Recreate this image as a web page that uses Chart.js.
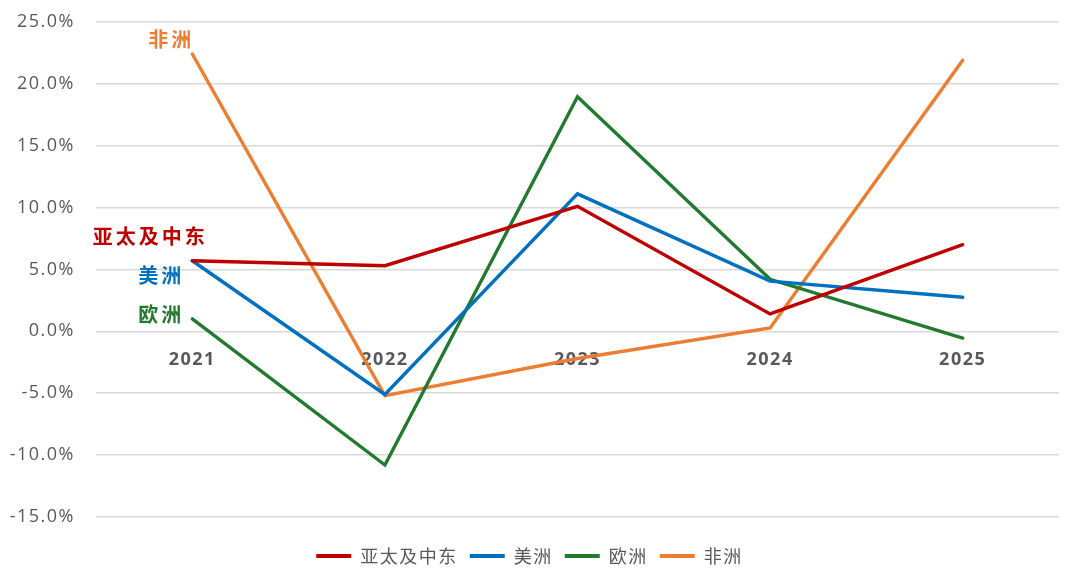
<!DOCTYPE html>
<html>
<head>
<meta charset="utf-8">
<script src="https://cdn.jsdelivr.net/npm/chart.js@4.4.0/dist/chart.umd.min.js"></script>
<style>
  html, body { margin: 0; padding: 0; background: #fff; }
  #wrap { width: 1080px; height: 588px; position: relative; }
</style>
</head>
<body>
<div id="wrap"><canvas id="c"></canvas></div>
<script>
var YEARS = ['2021', '2022', '2023', '2024', '2025'];
var SERIES_NAMES = ['亚太及中东', '美洲', '欧洲', '非洲'];
var APAC_ME = [5.7, 5.3, 10.1, 1.4, 7.0];
var AMERICAS = [5.7, -5.1, 11.1, 4.05, 2.75];
var EUROPE = [1.0, -10.8, 18.95, 4.2, -0.55];
var AFRICA = [22.4, -5.2, -2.2, 0.27, 21.9];
var Y_TICKS = [-15, -10, -5, 0, 5, 10, 15, 20, 25];

var COLORS = ['#c00000', '#0070c0', '#217a2d', '#ed7d31'];
var TEXT = '#595959';
var GRID = '#d9d9d9';
var FONT = "'Open Sans', 'Noto Sans CJK SC', sans-serif";
var FONT_CJK = "'Noto Sans CJK SC', sans-serif";

// where each series name sits relative to its first point
var LABEL_OFFSETS = [
  { dx: -42, dy: -24 },
  { dx: -31, dy: 15 },
  { dx: -31, dy: -5 },
  { dx: -21, dy: -15 },
];

// the source picture has loosely spaced text, canvas can do that directly
var spacing = {
  id: 'spacing',
  beforeLayout: function (chart) { chart.ctx.letterSpacing = '1.5px'; },
  beforeDraw: function (chart) { chart.ctx.letterSpacing = '1.5px'; },
};

var seriesLabels = {
  id: 'seriesLabels',
  afterDatasetsDraw: function (chart) {
    var ctx = chart.ctx;
    ctx.save();
    ctx.font = 'bold 20px ' + FONT_CJK;
    ctx.letterSpacing = '3px';
    ctx.textAlign = 'center';
    ctx.textBaseline = 'middle';
    chart.data.datasets.forEach(function (ds, i) {
      var pt = chart.getDatasetMeta(i).data[0];
      var off = LABEL_OFFSETS[i];
      ctx.fillStyle = ds.borderColor;
      ctx.fillText(ds.label, pt.x + off.dx, pt.y + off.dy);
    });
    ctx.restore();
  },
};

function makeDataset(name, values, color) {
  return {
    label: name,
    data: values,
    borderColor: color,
    backgroundColor: color,
    borderWidth: 3.4,
    borderCapStyle: 'round',
    borderJoinStyle: 'miter',
    pointRadius: 0,
    pointHoverRadius: 0,
    tension: 0,
    fill: false,
  };
}

new Chart(document.getElementById('c').getContext('2d'), {
  type: 'line',
  data: {
    labels: YEARS,
    datasets: [
      makeDataset(SERIES_NAMES[0], APAC_ME, COLORS[0]),
      makeDataset(SERIES_NAMES[1], AMERICAS, COLORS[1]),
      makeDataset(SERIES_NAMES[2], EUROPE, COLORS[2]),
      makeDataset(SERIES_NAMES[3], AFRICA, COLORS[3]),
    ],
  },
  plugins: [spacing, seriesLabels],
  options: {
    responsive: true,
    maintainAspectRatio: false,
    animation: false,
    events: [],
    layout: { padding: { top: 0, right: 21, left: 0, bottom: 13 } },
    scales: {
      x: {
        type: 'category',
        offset: true,
        position: { y: 0 },
        grid: { display: false, drawTicks: false },
        border: { display: false },
        ticks: {
          color: TEXT,
          padding: 18,
          maxRotation: 0,
          font: { family: FONT, size: 18, weight: 'bold' },
        },
      },
      y: {
        min: -15,
        max: 25,
        afterBuildTicks: function (scale) {
          scale.ticks = Y_TICKS.map(function (v) { return { value: v }; });
        },
        afterFit: function (scale) {
          scale.width = 96;
        },
        // invisible tick marks keep the labels clear of the plot without padding the top
        grid: { color: GRID, lineWidth: 1.5, drawTicks: true, tickLength: 10, tickColor: 'rgba(0,0,0,0)' },
        border: { display: false },
        ticks: {
          color: TEXT,
          padding: 11,
          font: { family: FONT, size: 18 },
          callback: function (v) {
            return v.toFixed(1) + '%';
          },
        },
      },
    },
    plugins: {
      legend: {
        position: 'bottom',
        title: { display: true, text: '', padding: 0, font: { size: 15 } },
        labels: {
          color: TEXT,
          boxWidth: 35,
          boxHeight: 4,
          padding: 12,
          font: { family: FONT_CJK, size: 18 },
          generateLabels: function (chart) {
            var items = Chart.defaults.plugins.legend.labels.generateLabels(chart);
            items.forEach(function (it) {
              it.lineWidth = 0;
              it.fillStyle = it.strokeStyle;
            });
            return items;
          },
        },
      },
      tooltip: { enabled: false },
    },
  },
});
</script>
</body>
</html>
